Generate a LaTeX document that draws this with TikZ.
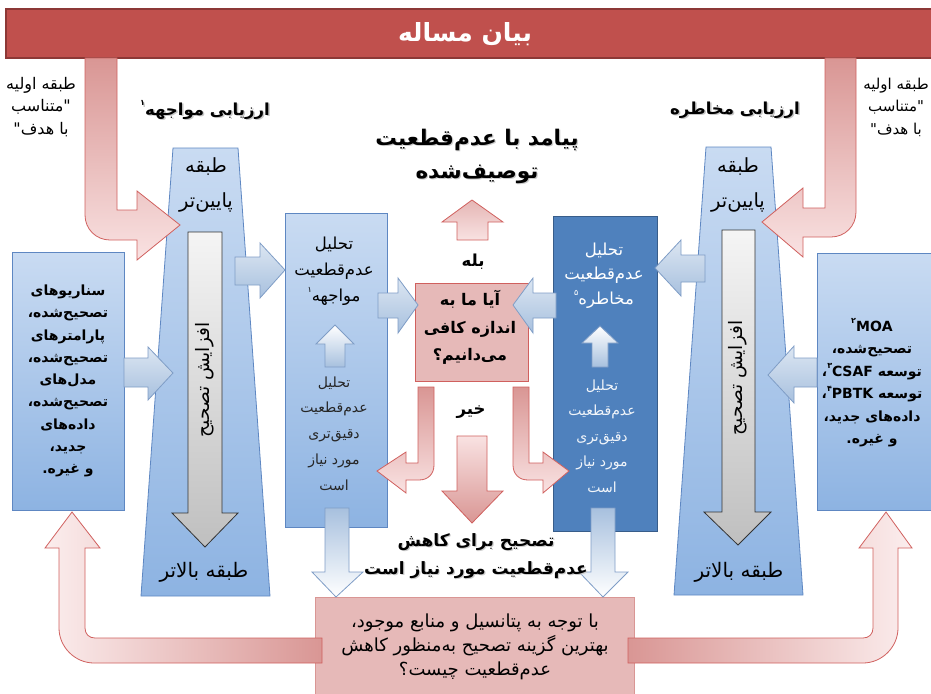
\documentclass[tikz,border=0pt]{standalone}
\usepackage{fontspec}
\newfontfamily\fa[Script=Arabic]{DejaVu Sans}
\TeXXeTstate=1
\newcommand\R[1]{\beginR #1\endR}
\newcommand\supfa[1]{\raisebox{0.55em}{\fontsize{8}{8}\selectfont #1}}
\definecolor{barred}{HTML}{C0504D}
\definecolor{barbd}{HTML}{8C3836}
\definecolor{bluetop}{HTML}{C9DBF2}
\definecolor{bluebot}{HTML}{8DB3E2}
\definecolor{bluebd}{HTML}{5E87C2}
\definecolor{darkblue}{HTML}{4F81BD}
\definecolor{darkbluebd}{HTML}{385D8A}
\definecolor{arrtop}{HTML}{DCE6F2}
\definecolor{arrbot}{HTML}{A7C0DE}
\definecolor{arrbd}{HTML}{7F9DC6}
\definecolor{redtop}{HTML}{D99694}
\definecolor{redbot}{HTML}{F9E2E2}
\definecolor{redbd}{HTML}{D0605E}
\definecolor{pinkfill}{HTML}{E6B9B8}
\definecolor{pinkbd}{HTML}{D99694}
\begin{document}
\begin{tikzpicture}[x=1pt,y=-1pt,
  bluebox/.style={draw=bluebd, line width=0.8pt, top color=bluetop, bottom color=bluebot, inner sep=0pt},
  redarrow/.style={draw=redbd, line width=0.8pt, top color=redtop, bottom color=redbot},
  bluearrow/.style={draw=arrbd, line width=0.8pt, top color=arrtop, bottom color=arrbot},
  uparrow/.style={draw=arrbd, line width=0.8pt, top color=white, bottom color=arrbot},
  downarrow/.style={draw=arrbd, line width=0.8pt, top color=arrbot, bottom color=white},
  greyarrow/.style={draw=black!80, line width=0.8pt, top color=gray!8, bottom color=gray!50},
  txt/.style={align=center, inner sep=0pt, text=black},
]
\useasboundingbox (0,0) rectangle (931,693);

% top bar
\node[draw=barbd, line width=1.2pt, fill=barred, minimum width=939pt, minimum height=49pt, inner sep=0pt] (bar) at (475.5,33.5) {};

% trapezoids
\path[bluebox] (173,148) -- (238,148) -- (270,596) -- (141,596) -- cycle;
\path[bluebox] (706,147) -- (771,147) -- (803,595) -- (674,595) -- cycle;

% grey arrows
\path[greyarrow] (188,232) -- (222,232) -- (222,513) -- (238,513) -- (205,547) -- (172,513) -- (188,513) -- cycle;
\path[greyarrow] (722,230) -- (755,230) -- (755,512) -- (771,512) -- (738,545) -- (704,512) -- (722,512) -- cycle;

% top bent arrows
\path[redarrow] (85,58) -- (85,215) .. controls (85,229) and (96,240) .. (110,240) -- (137,240) -- (137,260) -- (180,225) -- (137,191) -- (137,210) -- (117,210) -- (117,58) -- cycle;
\path[redarrow] (856,58) -- (856,212) .. controls (856,226) and (845,237) .. (831,237) -- (803,237) -- (803,257) -- (762,222) -- (803,188) -- (803,208) -- (825,208) -- (825,58) -- cycle;

% boxes
\node[bluebox, minimum width=112pt, minimum height=258pt] (inL) at (68,381) {};
\node[bluebox, minimum width=118pt, minimum height=257pt] (inR) at (876,381.5) {};
\node[bluebox, minimum width=102pt, minimum height=314pt] (cl) at (336,370) {};
\node[draw=darkbluebd, line width=0.8pt, fill=darkblue, minimum width=104pt, minimum height=315pt, inner sep=0pt] (cr) at (605,373.5) {};
\node[draw=redbd, line width=0.8pt, fill=pinkfill, minimum width=113pt, minimum height=98pt, inner sep=0pt] (q) at (471.5,332) {};
\node[draw=pinkbd, line width=0.8pt, fill=pinkfill, minimum width=319pt, minimum height=108pt, inner sep=0pt] (bot) at (474.5,651) {};

% blue block arrows (horizontal)
\path[bluearrow] (124,358) -- (148,358) -- (148,347) -- (173,373) -- (148,400) -- (148,387) -- (124,387) -- cycle;
\path[bluearrow] (235,257) -- (260,257) -- (260,243) -- (285,270) -- (260,298) -- (260,285) -- (235,285) -- cycle;
\path[bluearrow] (378,293) -- (398,293) -- (398,278) -- (418,305) -- (398,333) -- (398,318) -- (378,318) -- cycle;
\path[bluearrow] (556,293) -- (533,293) -- (533,278) -- (513,305) -- (533,333) -- (533,318) -- (556,318) -- cycle;
\path[bluearrow] (705,255) -- (681,255) -- (681,240) -- (655,268) -- (681,296) -- (681,282) -- (705,282) -- cycle;
\path[bluearrow] (817,358) -- (794,358) -- (794,346) -- (768,375) -- (794,403) -- (794,387) -- (817,387) -- cycle;

% up arrows inside boxes
\path[uparrow] (325,367) -- (325,344) -- (316,344) -- (335,325) -- (354,344) -- (345,344) -- (345,367) -- cycle;
\path[uparrow] (592,367) -- (592,343) -- (582,343) -- (600,326) -- (618,343) -- (608,343) -- (608,367) -- cycle;

% down arrows to bottom box
\path[downarrow] (325,508) -- (349,508) -- (349,572) -- (363,572) -- (336,597) -- (312,572) -- (325,572) -- cycle;
\path[downarrow] (591,508) -- (615,508) -- (615,572) -- (628,572) -- (603,597) -- (579,572) -- (591,572) -- cycle;

% red arrows around question
\path[redarrow, top color=pinkfill!90!redtop, bottom color=redbot] (457,240) -- (457,222) -- (442,222) -- (472,200) -- (503,222) -- (488,222) -- (488,240) -- cycle;
\path[redarrow, top color=redbot, bottom color=redtop] (457,436) -- (487,436) -- (487,491) -- (503,491) -- (472,523) -- (442,491) -- (457,491) -- cycle;
\path[redarrow] (418,387) -- (434,387) -- (434,465) .. controls (434,474) and (428,480) .. (419,480) -- (406,480) -- (406,493) -- (377,471) -- (406,452) -- (406,463) -- (418,463) -- cycle;
\path[redarrow] (529,387) -- (513,387) -- (513,465) .. controls (513,474) and (519,480) .. (528,480) -- (543,480) -- (543,493) -- (569,471) -- (543,452) -- (543,463) -- (529,463) -- cycle;

% bottom bent arrows
\path[draw=redbd, line width=0.8pt, left color=redbot!60!white, right color=redtop] (322,638) -- (95,638) .. controls (89,638) and (85,634) .. (85,628) -- (85,548) -- (100,548) -- (72,512) -- (45,548) -- (59,548) -- (59,628) .. controls (59,647) and (75,663) .. (94,663) -- (322,663) -- cycle;
\path[draw=redbd, line width=0.8pt, left color=redtop, right color=redbot!60!white] (628,638) -- (863,638) .. controls (869,638) and (873,634) .. (873,628) -- (873,548) -- (859,548) -- (886,512) -- (912,548) -- (898,548) -- (898,628) .. controls (898,647) and (882,663) .. (863,663) -- (628,663) -- cycle;

% ---- texts ----
\node[txt, text=white, font=\fa\bfseries\fontsize{25}{28}\selectfont] (title) at (465,34) {\R{بیان مساله}};

\node[txt, font=\fa\fontsize{16}{22.5}\selectfont] (cornL) at (41,107) {\R{طبقه اولیه}\\ \R{"متناسب}\\ \R{با هدف"}};
\node[txt, font=\fa\fontsize{15}{22.5}\selectfont] (cornR) at (896,107) {\R{طبقه اولیه}\\ \R{"متناسب}\\ \R{با هدف"}};

\node[txt, text=gray!45, font=\fa\bfseries\fontsize{16.5}{20}\selectfont] (expS) at (206.5,111.5) {\R{ارزیابی مواجهه\supfa{۱}}};
\node[txt, font=\fa\bfseries\fontsize{16.5}{20}\selectfont] (exp) at (205,110) {\R{ارزیابی مواجهه\supfa{۱}}};
\node[txt, text=gray!45, font=\fa\bfseries\fontsize{16.5}{20}\selectfont] (riskS) at (736.5,111.5) {\R{ارزیابی مخاطره}};
\node[txt, font=\fa\bfseries\fontsize{16.5}{20}\selectfont] (risk) at (735,110) {\R{ارزیابی مخاطره}};

\node[txt, text=gray!40, font=\fa\bfseries\fontsize{21.5}{33}\selectfont] (outS) at (478.2,157.7) {\R{پیامد با عدم‌قطعیت}\\ \R{توصیف‌شده}};
\node[txt, font=\fa\bfseries\fontsize{21.5}{33}\selectfont] (out) at (477,156.5) {\R{پیامد با عدم‌قطعیت}\\ \R{توصیف‌شده}};

\node[txt, font=\fa\fontsize{19.5}{35}\selectfont] (lowL) at (206,185) {\R{طبقه}\\ \R{پایین‌تر}};
\node[txt, font=\fa\fontsize{19.5}{35}\selectfont] (lowR) at (738,185) {\R{طبقه}\\ \R{پایین‌تر}};
\node[txt, font=\fa\fontsize{20}{24}\selectfont] (highL) at (204,572) {\R{طبقه بالاتر}};
\node[txt, font=\fa\fontsize{20}{24}\selectfont] (highR) at (739,572) {\R{طبقه بالاتر}};

\node[txt, rotate=90, font=\fa\fontsize{18.5}{22}\selectfont] (incL) at (205,380) {\R{افزایش تصحیح}};
\node[txt, rotate=90, font=\fa\fontsize{18.5}{22}\selectfont] (incR) at (738,378) {\R{افزایش تصحیح}};

\node[txt, font=\fa\bfseries\fontsize{14}{22.25}\selectfont] (tinL) at (68,381) {\R{سناریوهای}\\ \R{تصحیح‌شده،}\\ \R{پارامترهای}\\ \R{تصحیح‌شده،}\\ \R{مدل‌های}\\ \R{تصحیح‌شده،}\\ \R{داده‌های}\\ \R{جدید،}\\ \R{و غیره.}};
\node[txt, font=\fa\bfseries\fontsize{14}{22.5}\selectfont] (tinR) at (872,383) {\R{\beginL MOA\endL\supfa{۲}}\\ \R{تصحیح‌شده،}\\ \R{توسعه \beginL CSAF\endL\supfa{۳}،}\\ \R{توسعه \beginL PBTK\endL\supfa{۴}،}\\ \R{داده‌های جدید،}\\ \R{و غیره.}};

\node[txt, font=\fa\fontsize{16.5}{26}\selectfont] (tcl) at (334,271) {\R{تحلیل}\\ \R{عدم‌قطعیت}\\ \R{مواجهه\supfa{۱}}};
\node[txt, text=black!85, font=\fa\fontsize{14}{25.75}\selectfont] (tcl2) at (334,433.5) {\R{تحلیل}\\ \R{عدم‌قطعیت}\\ \R{دقیق‌تری}\\ \R{مورد نیاز}\\ \R{است}};
\node[txt, text=white, font=\fa\fontsize{16.5}{24.5}\selectfont] (tcr) at (604,275.5) {\R{تحلیل}\\ \R{عدم‌قطعیت}\\ \R{مخاطره\supfa{۵}}};
\node[txt, text=white!92!darkblue, font=\fa\fontsize{14}{25.5}\selectfont] (tcr2) at (602,436) {\R{تحلیل}\\ \R{عدم‌قطعیت}\\ \R{دقیق‌تری}\\ \R{مورد نیاز}\\ \R{است}};

\node[txt, font=\fa\bfseries\fontsize{16}{27.5}\selectfont] (tq) at (470,327.5) {\R{آیا ما به}\\ \R{اندازه کافی}\\ \R{می‌دانیم؟}};
\node[txt, font=\fa\bfseries\fontsize{16.5}{20}\selectfont] (yes) at (473,262) {\R{بله}};
\node[txt, font=\fa\bfseries\fontsize{16.5}{20}\selectfont] (no) at (471,412) {\R{خیر}};

\node[txt, text=gray!40, font=\fa\bfseries\fontsize{17}{28}\selectfont] (corrS) at (477.2,557.2) {\R{تصحیح برای کاهش}\\ \R{عدم‌قطعیت مورد نیاز است}};
\node[txt, font=\fa\bfseries\fontsize{17}{28}\selectfont] (corr) at (476,556) {\R{تصحیح برای کاهش}\\ \R{عدم‌قطعیت مورد نیاز است}};

\node[txt, font=\fa\fontsize{18}{24}\selectfont] (tbot) at (475,646.5) {\R{با توجه به پتانسیل و منابع موجود،}\\ \R{بهترین گزینه تصحیح به‌منظور کاهش}\\ \R{عدم‌قطعیت چیست؟}};
\end{tikzpicture}
\end{document}
